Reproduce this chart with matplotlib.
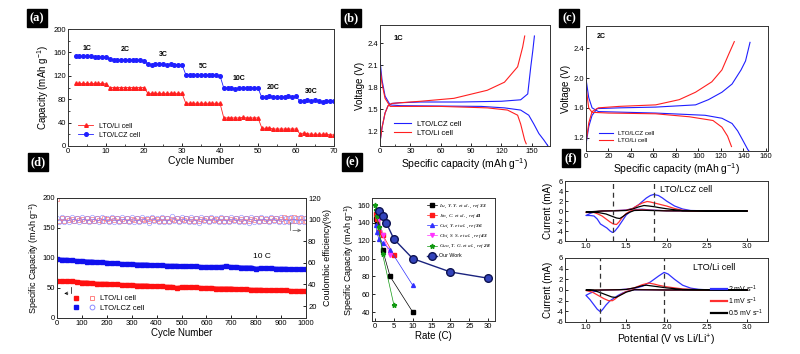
import matplotlib
matplotlib.use("Agg")
import matplotlib.pyplot as plt
from matplotlib.legend_handler import HandlerTuple
import numpy as np

plt.rcParams['font.family'] = ['Liberation Sans', 'DejaVu Sans']
plt.rcParams['axes.unicode_minus'] = False
plt.rcParams['mathtext.fontset'] = 'custom'
plt.rcParams['mathtext.rm'] = 'Liberation Sans'
plt.rcParams['mathtext.it'] = 'Liberation Serif:italic'
plt.rcParams['mathtext.bf'] = 'Liberation Serif:bold:italic'
plt.rcParams['xtick.direction'] = 'in'
plt.rcParams['ytick.direction'] = 'in'

# ---------------- (a) rate performance ----------------
a_cycles = list(range(2, 71))
a_lcz = [153, 153, 153, 153, 153, 152, 152, 152, 152,
         148, 147, 147, 147, 147, 147, 147, 147, 147, 146,
         140, 139, 140, 140, 140, 139, 140, 139, 139, 139,
         122, 122, 121, 121, 121, 121, 121, 121, 121, 120,
         99, 99, 99, 98, 99, 99, 99, 99, 99, 99,
         83, 83, 86, 84, 84, 84, 84, 86, 83, 85,
         77, 77, 78, 77, 78, 77, 75, 77, 77, 77]
a_li = [107, 107, 107, 107, 107, 107, 107, 107, 106,
        100, 100, 100, 100, 100, 100, 100, 100, 100, 100,
        90, 90, 90, 90, 90, 90, 90, 90, 90, 90,
        73, 73, 73, 73, 73, 73, 73, 73, 73, 73,
        48, 48, 48, 48, 48, 49, 48, 48, 48, 48,
        31, 30, 31, 29, 29, 29, 29, 29, 29, 29,
        21, 22, 21, 20, 20, 20, 20, 20, 19, 19]
a_rate_labels = ["1C", "2C", "3C", "5C", "10C", "20C", "30C"]
a_rate_x = [5, 15, 25, 35.5, 45, 54, 64]
a_rate_y = [161, 159, 150, 130, 110, 94, 87]

# ---------------- (b) 1C charge/discharge ----------------
b_lcz_ch_x = [0, 2, 5, 8, 11.6, 20, 40, 80, 120, 139, 146, 149, 151, 152.6]
b_lcz_ch_y = [1.05, 1.25, 1.45, 1.55, 1.58, 1.59, 1.6, 1.6, 1.61, 1.63, 1.71, 2.08, 2.3, 2.5]
b_lcz_dis_x = [0, 2, 5, 10, 20, 60, 100, 123, 139, 147, 152, 157, 162, 167]
b_lcz_dis_y = [2.17, 1.9, 1.68, 1.56, 1.55, 1.545, 1.54, 1.52, 1.49, 1.42, 1.3, 1.17, 1.08, 0.98]
b_li_ch_x = [0, 2, 5, 8, 11.6, 20, 40, 73, 106, 123, 136, 141, 143]
b_li_ch_y = [1.05, 1.25, 1.45, 1.55, 1.58, 1.59, 1.61, 1.65, 1.76, 1.87, 2.08, 2.35, 2.5]
b_li_dis_x = [0, 2, 5, 10, 20, 60, 106, 126, 136, 139, 143, 144.5]
b_li_dis_y = [2.08, 1.85, 1.65, 1.54, 1.54, 1.54, 1.52, 1.49, 1.42, 1.3, 1.08, 1.03]

# ---------------- (c) 2C charge/discharge ----------------
c_lcz_ch_x = [0, 2.5, 5.4, 10, 30, 62, 97.5, 109, 121, 130, 138, 142, 146]
c_lcz_ch_y = [1.11, 1.35, 1.5, 1.59, 1.6, 1.61, 1.64, 1.71, 1.81, 1.92, 2.11, 2.23, 2.48]
c_lcz_dis_x = [0, 2.4, 5.4, 11, 62, 106, 121, 130, 135, 139, 144, 146.5]
c_lcz_dis_y = [1.99, 1.74, 1.6, 1.55, 1.53, 1.5, 1.46, 1.39, 1.29, 1.18, 1.04, 0.99]
c_li_ch_x = [0, 2.5, 5.4, 11, 30, 62, 83, 97.5, 112, 121, 127, 132]
c_li_ch_y = [1.13, 1.4, 1.55, 1.6, 1.62, 1.64, 1.71, 1.81, 1.95, 2.11, 2.32, 2.49]
c_li_dis_x = [0, 2.4, 5.4, 20, 62, 92, 113, 121, 126, 129.5]
c_li_dis_y = [1.88, 1.6, 1.54, 1.53, 1.52, 1.48, 1.43, 1.34, 1.22, 1.08]

# ---------------- (d) long-term cycling at 10C ----------------
d_cycles = list(range(0, 1001, 20))
d_lcz_cap = [98, 97, 97, 96, 95, 95, 94, 94, 93, 93, 92, 91, 91, 90, 90, 90, 89, 89, 89, 88,
             88, 88, 87, 87, 87, 86, 86, 86, 86, 85, 85, 85, 85, 85, 86, 85, 85, 84, 84, 84,
             82, 83, 83, 83, 82, 82, 82, 81, 81, 81, 81]
d_li_cap = [61, 61, 61, 61, 60, 59, 59, 58, 57, 57, 57, 56, 56, 55, 55, 55, 54, 54, 54, 53,
            53, 53, 52, 52, 50, 51, 51, 51, 51, 50, 50, 50, 49, 49, 49, 49, 48, 48, 48, 47,
            47, 47, 46, 46, 46, 46, 46, 45, 45, 45, 45]
d_ce_cycles = list(range(0, 1001, 10))
d_li_ce = [119, 99.0, 101.2, 98.6, 101.6, 99.2, 100.8, 98.8, 101.4, 99.5, 100.6,
           98.5, 101.8, 99.1, 100.9, 98.7, 101.3, 99.6, 98.9, 101.5, 100.2,
           98.6, 101.1, 99.3, 101.7, 98.8, 100.5, 99.0, 101.4, 98.7, 100.9,
           99.4, 101.6, 98.5, 101.0, 99.2, 100.7, 98.9, 101.5, 99.6, 100.3,
           98.4, 101.2, 99.1, 101.8, 98.7, 100.6, 99.3, 101.4, 98.6, 100.9,
           99.5, 101.6, 98.8, 101.0, 99.0, 101.3, 98.5, 100.8, 99.4, 101.7,
           98.9, 101.1, 99.2, 100.5, 98.6, 101.5, 99.0, 101.2, 98.8, 100.7,
           99.3, 101.6, 98.5, 101.0, 99.1, 101.4, 98.7, 100.9, 99.5, 101.3,
           98.6, 101.7, 99.0, 100.6, 98.8, 101.2, 99.4, 101.5, 98.7, 100.8,
           102.0, 98.6, 101.8, 99.0, 102.2, 98.4, 101.6, 98.9, 101.9, 98.6]
d_lcz_ce = [101.5, 97.8, 102.4, 98.2, 101.8, 97.4, 102.6, 98.5, 101.2, 97.9, 102.1,
            98.6, 101.9, 97.6, 102.5, 98.3, 101.4, 97.8, 102.2, 98.8, 101.9,
            97.5, 102.7, 98.1, 101.3, 97.9, 102.8, 98.6, 101.6, 97.4, 102.3,
            98.0, 101.8, 97.7, 102.6, 98.4, 101.1, 97.3, 102.4, 98.5, 101.7,
            97.9, 102.0, 98.2, 101.5, 97.5, 102.9, 98.3, 101.9, 97.7, 102.3,
            98.6, 101.4, 97.6, 102.5, 98.0, 101.8, 97.2, 102.7, 98.4, 101.2,
            97.8, 102.1, 98.7, 101.6, 97.4, 102.4, 98.1, 101.9, 97.6, 102.0,
            98.5, 101.3, 97.5, 102.6, 98.2, 101.7, 97.1, 102.3, 98.0, 101.5,
            97.7, 102.5, 98.4, 101.2, 97.4, 102.0, 98.6, 101.8, 97.8, 102.4,
            98.1, 101.6, 97.6, 102.2, 98.5, 101.4, 97.7, 102.0, 98.2, 101.3]

# ---------------- (e) comparison with literature ----------------
e_names = ["Lu, Y. Y. $et\\ al.$, ref $\\mathbf{33}$",
           "Jin, C. $et\\ al.$, ref $\\mathbf{41}$",
           "Cui, Y. $et\\ al.$, ref $\\mathbf{36}$",
           "Chi, S. S. $et\\ al.$, ref $\\mathbf{43}$",
           "Guo, T. G. $et\\ al.$, ref $\\mathbf{28}$",
           "Our Work"]
e_rates = [[0.2, 0.5, 1, 2, 4, 10],
           [0.2, 0.5, 1, 2, 5],
           [0.2, 0.5, 1, 2, 4, 10],
           [1, 2, 4],
           [0.1, 0.2, 0.5, 1, 2, 5],
           [1, 2, 3, 5, 10, 20, 30]]
e_caps = [[145, 140, 130, 110, 80, 40],
          [150, 145, 130, 127, 104],
          [138, 130, 122, 118, 110, 70],
          [144, 127, 104],
          [160, 155, 148, 135, 105, 48],
          [153, 148, 140, 122, 100, 85, 78]]

# ---------------- (f) cyclic voltammetry ----------------
f_rates = ["2 mV s$^{-1}$", "1 mV s$^{-1}$", "0.5 mV s$^{-1}$"]
f_lcz_v = [
    [3.0, 2.5, 2.0, 1.8, 1.7, 1.62, 1.56, 1.5, 1.45, 1.4, 1.36, 1.33, 1.3, 1.26, 1.22, 1.18, 1.14, 1.1, 1.05, 1.0,
     1.0, 1.05, 1.1, 1.2, 1.3, 1.4, 1.5, 1.58, 1.65, 1.7, 1.75, 1.8, 1.84, 1.9, 1.95, 2.0, 2.1, 2.2, 2.3, 2.5, 3.0],
    [3.0, 2.5, 2.0, 1.8, 1.7, 1.6, 1.55, 1.5, 1.45, 1.41, 1.38, 1.34, 1.3, 1.25, 1.2, 1.15, 1.1, 1.0,
     1.0, 1.1, 1.2, 1.3, 1.4, 1.5, 1.58, 1.65, 1.7, 1.76, 1.8, 1.85, 1.9, 2.0, 2.1, 2.2, 2.3, 3.0],
    [3.0, 2.5, 2.0, 1.8, 1.7, 1.6, 1.55, 1.5, 1.46, 1.42, 1.38, 1.33, 1.25, 1.15, 1.05, 1.0,
     1.0, 1.1, 1.2, 1.4, 1.5, 1.58, 1.65, 1.72, 1.78, 1.85, 1.9, 2.0, 2.1, 2.2, 3.0]]
f_lcz_i = [
    [0.0, 0.0, 0.05, 0.2, 0.35, 0.3, 0.0, -0.8, -2.0, -3.2, -4.0, -4.3, -4.0, -3.4, -3.0, -2.6, -1.6, -1.0, -0.9, -0.9,
     -0.9, -0.5, -0.2, 0.0, 0.05, 0.1, 0.2, 0.5, 1.2, 1.9, 2.6, 3.1, 3.3, 3.1, 2.6, 2.0, 1.0, 0.4, 0.1, 0.03, 0.0],
    [0.0, 0.0, 0.05, 0.15, 0.25, 0.2, 0.0, -0.5, -1.3, -2.2, -2.7, -2.6, -2.2, -1.6, -1.0, -0.6, -0.3, -0.3,
     -0.3, -0.15, 0.0, 0.05, 0.1, 0.15, 0.5, 1.2, 1.6, 1.9, 1.8, 1.6, 1.4, 1.0, 0.5, 0.15, 0.05, 0.0],
    [0.0, 0.0, 0.03, 0.1, 0.15, 0.1, -0.2, -0.6, -1.1, -1.5, -1.4, -1.1, -0.6, -0.3, -0.2, -0.2,
     -0.2, -0.1, 0.0, 0.05, 0.1, 0.4, 0.8, 1.1, 1.0, 0.85, 0.7, 0.45, 0.25, 0.08, 0.0]]
f_li_v = [
    [3.0, 2.5, 2.0, 1.8, 1.6, 1.5, 1.45, 1.4, 1.35, 1.3, 1.25, 1.21, 1.18, 1.14, 1.1, 1.05, 1.0,
     1.0, 1.05, 1.1, 1.2, 1.4, 1.5, 1.6, 1.7, 1.8, 1.9, 1.97, 2.02, 2.1, 2.2, 2.3, 2.4, 2.5, 3.0],
    [3.0, 2.5, 2.0, 1.8, 1.6, 1.5, 1.45, 1.4, 1.36, 1.33, 1.28, 1.22, 1.15, 1.08, 1.0,
     1.0, 1.1, 1.2, 1.4, 1.5, 1.6, 1.7, 1.78, 1.85, 1.9, 2.0, 2.2, 2.4, 3.0],
    [3.0, 2.5, 2.0, 1.8, 1.6, 1.5, 1.45, 1.41, 1.37, 1.32, 1.25, 1.18, 1.1, 1.0,
     1.0, 1.1, 1.2, 1.4, 1.5, 1.6, 1.7, 1.75, 1.85, 2.0, 2.2, 3.0]]
f_li_i = [
    [0.0, 0.0, 0.0, 0.05, 0.05, -0.3, -0.6, -1.0, -1.5, -2.0, -2.8, -3.6, -4.1, -3.6, -2.8, -1.8, -1.0,
     -1.0, -0.6, -0.3, 0.0, 0.05, 0.15, 0.3, 0.7, 1.5, 2.6, 3.3, 3.0, 2.0, 0.9, 0.35, 0.12, 0.05, 0.0],
    [0.0, 0.0, 0.0, 0.05, 0.1, -0.3, -0.7, -1.2, -1.7, -2.0, -2.0, -1.6, -1.0, -0.4, -0.1,
     -0.1, -0.05, 0.0, 0.05, 0.1, 0.4, 1.0, 1.3, 1.1, 0.9, 0.6, 0.2, 0.05, 0.0],
    [0.0, 0.0, 0.0, 0.03, 0.05, -0.4, -0.8, -1.1, -1.4, -1.3, -0.9, -0.5, -0.1, 0.0,
     0.0, 0.0, 0.0, 0.05, 0.1, 0.4, 0.8, 0.9, 0.7, 0.4, 0.1, 0.0]]
f_lcz_peaks = [1.33, 1.84]
f_li_peaks = [1.18, 1.97]

BLUE = '#1f1fff'
RED = '#ff2020'
F_COLORS = ['#3030ff', '#ff3030', 'black']

fig = plt.figure(figsize=(8, 3.54), dpi=100)
W, H = 800.0, 354.0


def px_axes(l, t, r, b):
    return fig.add_axes([l / W, 1 - b / H, (r - l) / W, (b - t) / H])


def tick_style(ax, size=5.5):
    ax.tick_params(labelsize=size, length=2, width=0.6, pad=1.5)
    ax.tick_params(which='minor', length=1.2, width=0.5)
    for s in ax.spines.values():
        s.set_linewidth(0.7)
        s.set_color('#333333')


def panel_label(x, y, text):
    fig.text(x / W, 1 - y / H, text, color='white', fontsize=9, fontweight='bold',
             family='Liberation Serif', ha='center', va='center',
             bbox=dict(boxstyle='square,pad=0.22', fc='black', ec='black'))


# (a)
ax = px_axes(68, 29, 334, 146)
ax.plot(a_cycles, a_li, '-^', color=RED, ms=2.6, lw=0.6, label='LTO/Li cell')
ax.plot(a_cycles, a_lcz, '-o', color=BLUE, ms=2.6, lw=0.6, label='LTO/LCZ cell')
for lab, x, y in zip(a_rate_labels, a_rate_x, a_rate_y):
    ax.text(x, y, lab, fontsize=5, fontweight='bold', ha='center', va='bottom')
ax.set_xlim(0, 70)
ax.set_ylim(0, 200)
ax.set_xticks(range(0, 71, 10))
ax.set_yticks(range(0, 201, 40))
ax.set_xticks(range(5, 71, 10), minor=True)
ax.set_yticks(range(20, 201, 40), minor=True)
tick_style(ax)
ax.set_xlabel('Cycle Number', fontsize=7.5, labelpad=1)
ax.set_ylabel('Capacity (mAh g$^{-1}$)', fontsize=7, labelpad=2)
ax.legend(loc='lower left', bbox_to_anchor=(0.02, 0.02), frameon=False, fontsize=5,
          handlelength=2.2, labelspacing=0.3, borderpad=0.2)
panel_label(37, 18, '(a)')

# (b)
ax = px_axes(380, 25, 550, 146)
ax.plot(b_lcz_ch_x, b_lcz_ch_y, color=BLUE, lw=0.8, label='LTO/LCZ cell')
ax.plot(b_lcz_dis_x, b_lcz_dis_y, color=BLUE, lw=0.8)
ax.plot(b_li_ch_x, b_li_ch_y, color=RED, lw=0.8, label='LTO/Li cell')
ax.plot(b_li_dis_x, b_li_dis_y, color=RED, lw=0.8)
ax.text(0.08, 0.88, '1C', transform=ax.transAxes, fontsize=5.5, fontweight='bold')
ax.set_xlim(0, 168)
ax.set_ylim(1.0, 2.65)
ax.set_xticks(range(0, 151, 30))
ax.set_yticks([1.2, 1.5, 1.8, 2.1, 2.4])
ax.set_xticks(range(15, 166, 30), minor=True)
tick_style(ax)
ax.set_xlabel('Specific capacity (mAh g$^{-1}$)', fontsize=7.5, labelpad=1)
ax.set_ylabel('Voltage (V)', fontsize=7, labelpad=2)
ax.legend(loc='lower left', bbox_to_anchor=(0.05, 0.03), frameon=False, fontsize=5.5,
          handlelength=2.2, labelspacing=0.2, borderpad=0.2)
panel_label(351, 18, '(b)')

# (c)
ax = px_axes(586, 26, 768, 151)
ax.plot(c_lcz_ch_x, c_lcz_ch_y, color=BLUE, lw=0.8, label='LTO/LCZ cell')
ax.plot(c_lcz_dis_x, c_lcz_dis_y, color=BLUE, lw=0.8)
ax.plot(c_li_ch_x, c_li_ch_y, color=RED, lw=0.8, label='LTO/Li cell')
ax.plot(c_li_dis_x, c_li_dis_y, color=RED, lw=0.8)
ax.text(0.06, 0.9, '2C', transform=ax.transAxes, fontsize=5, fontweight='bold')
ax.set_xlim(0, 162)
ax.set_ylim(1.02, 2.7)
ax.set_xticks(range(0, 161, 20))
ax.set_yticks([1.2, 1.6, 2.0, 2.4])
tick_style(ax)
ax.set_xlabel('Specific capacity (mAh g$^{-1}$)', fontsize=7.5, labelpad=1)
ax.set_ylabel('Voltage (V)', fontsize=7, labelpad=2)
ax.legend(loc='lower left', bbox_to_anchor=(0.05, 0.03), frameon=False, fontsize=4.5,
          handlelength=2.2, labelspacing=0.2, borderpad=0.2)
panel_label(569, 18, '(c)')

# (d)
ax = px_axes(57, 198, 306, 318)
ax2 = ax.twinx()
ax2.plot(d_ce_cycles, d_li_ce, 's', mfc='none', mec='#ff7070', ms=3.2, mew=0.5, alpha=0.9)
ax2.plot(d_ce_cycles, d_lcz_ce, 'o', mfc='none', mec='#7b7bff', ms=3.2, mew=0.5, alpha=0.75)
ax.plot(d_cycles, d_li_cap, 's-', color='#ff1010', ms=2.2, lw=3.0)
ax.plot(d_cycles, d_lcz_cap, 's-', color='#1010ee', ms=2.2, lw=3.0)
ax.set_zorder(ax2.get_zorder() + 1)
ax.patch.set_visible(False)
# legend proxies (markers only, no data)
p1, = ax.plot([], [], 's', color='#ff1010', ms=3)
p2, = ax.plot([], [], 's', mfc='none', mec='#ff7070', ms=3.5, mew=0.6)
p3, = ax.plot([], [], 's', color='#1010ee', ms=3)
p4, = ax.plot([], [], 'o', mfc='none', mec='#7b7bff', ms=3.5, mew=0.6)
ax.set_xlim(0, 1000)
ax.set_ylim(0, 200)
ax2.set_ylim(9, 120)
ax.set_xticks(range(0, 1001, 100))
ax.set_yticks(range(0, 201, 50))
ax2.set_yticks(range(20, 121, 20))
tick_style(ax)
tick_style(ax2)
ax.text(822, 102, '10 C', fontsize=6, ha='center', va='center')
ax.plot([55, 55], [52, 41], color='black', lw=0.5)
ax.annotate('', xy=(18, 41), xytext=(55, 41),
            arrowprops=dict(arrowstyle='->', lw=0.5, mutation_scale=5))
ax.plot([936, 936], [160, 146], color='#555555', lw=0.5)
ax.annotate('', xy=(992, 146), xytext=(936, 146),
            arrowprops=dict(arrowstyle='->', lw=0.5, mutation_scale=5, color='#555555'))
ax.set_xlabel('Cycle Number', fontsize=7, labelpad=1)
ax.set_ylabel('Specific Capacity (mAh g$^{-1}$)', fontsize=6.5, labelpad=2)
ax2.set_ylabel('Coulombic efficiency(%)', fontsize=6.5, labelpad=2)
ax.legend(handles=[(p1, p2), (p3, p4)], labels=['LTO/Li cell', 'LTO/LCZ cell'],
          handler_map={tuple: HandlerTuple(ndivide=None, pad=0.8)},
          loc='lower left', bbox_to_anchor=(0.03, 0.0), frameon=False, fontsize=5.5,
          handlelength=3.5, labelspacing=0.3, borderpad=0.3, handletextpad=0.3)
panel_label(38, 162, '(d)')

# (e)
ax = px_axes(372, 198, 495, 321)
e_styles = [dict(color='black', marker='s', ms=2.5),
            dict(color='#ff1a1a', marker='s', ms=2.5),
            dict(color='#3030ff', marker='^', ms=2.8),
            dict(color='#ff33ff', marker='v', ms=2.8),
            dict(color='#119911', marker='*', ms=3.5),
            dict(color='#1a237e', marker='o', ms=5.5, mfc='#3344bb', mec='#0d1250', lw=1.0)]
for name, xs, ys, st in zip(e_names, e_rates, e_caps, e_styles):
    st = dict(st)
    lw = st.pop('lw', 0.5)
    ax.plot(xs, ys, '-', lw=lw, label=name, **st)
ax.set_xlim(-0.8, 31.8)
ax.set_ylim(30, 168)
ax.set_xticks(range(0, 31, 5))
ax.set_yticks(range(40, 161, 20))
tick_style(ax)
ax.set_xlabel('Rate (C)', fontsize=7, labelpad=1)
ax.set_ylabel('Specific Capacity (mAh g$^{-1}$)', fontsize=6.5, labelpad=2)
leg = ax.legend(loc='upper right', bbox_to_anchor=(1.0, 0.99), frameon=False, fontsize=3.8,
                handlelength=2.0, labelspacing=0.55, borderpad=0.2, handletextpad=0.4)
for t in leg.get_texts()[:5]:
    t.set_family('Liberation Serif')
    t.set_style('italic')
panel_label(352, 162, '(e)')

# (f)
axt = px_axes(565, 181, 768, 241)
axb = px_axes(565, 258, 768, 322)
for axf, vs, cs, peaks, title, tx in [
        (axt, f_lcz_v, f_lcz_i, f_lcz_peaks, 'LTO/LCZ cell', 0.47),
        (axb, f_li_v, f_li_i, f_li_peaks, 'LTO/Li cell', 0.63)]:
    for v, c, col, lab in zip(vs, cs, F_COLORS, f_rates):
        axf.plot(v, c, color=col, lw=0.9, label=lab)
    for p in peaks:
        axf.axvline(p, color='#333333', ls=(0, (4, 3)), lw=0.9)
    axf.text(tx, 0.85, title, transform=axf.transAxes, fontsize=6.5, va='center')
    axf.set_xlim(0.74, 3.26)
    axf.set_ylim(-6, 6)
    axf.set_xticks([1.0, 1.5, 2.0, 2.5, 3.0])
    axf.set_yticks(range(-6, 7, 2))
    tick_style(axf)
    axf.set_ylabel('Current (mA)', fontsize=7, labelpad=2)
axb.set_xlabel('Potential (V vs Li/Li$^{+}$)', fontsize=7.5, labelpad=1)
axb.legend(loc='lower right', bbox_to_anchor=(1.0, -0.02), frameon=False, fontsize=5,
           handlelength=2.2, labelspacing=0.25, borderpad=0.2, handletextpad=0.2)
for l in axb.get_legend().get_lines():
    l.set_linewidth(1.6)
panel_label(571, 158, '(f)')

fig.savefig('out.png', dpi=100)
